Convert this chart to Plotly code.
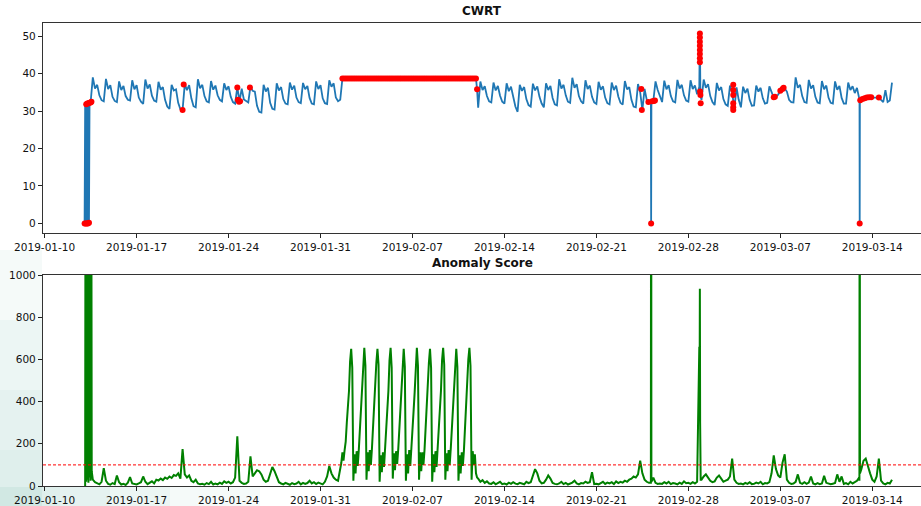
import pandas as pd
import plotly.graph_objects as go

# ---------------- data ----------------
TICK_DATES = ["2019-01-10", "2019-01-17", "2019-01-24", "2019-01-31", "2019-02-07",
              "2019-02-14", "2019-02-21", "2019-02-28", "2019-03-07", "2019-03-14"]
TICK_LABELS = TICK_DATES
CWRT_TICKS = [0, 10, 20, 30, 40, 50]
SCORE_TICKS = [0, 200, 400, 600, 800, 1000]
THRESHOLD = 100

# CWRT, 4-hourly samples, first segment (starts 2019-01-13 12:00)
CWRT_A_START = "2019-01-13 12:00"
CWRT_A = [
    32.3, 39.0, 36.0,                       # 01-13
    37.0, 34.2, 32.9, 32.6, 38.6, 35.9,     # 01-14
    36.9, 33.8, 32.7, 32.4, 37.9, 35.6,     # 01-15
    36.7, 34.0, 33.0, 32.8, 38.2, 35.8,     # 01-16
    36.9, 33.6, 32.5, 31.9, 38.4, 36.0,     # 01-17
    37.1, 34.1, 32.8, 32.5, 37.8, 35.7,     # 01-18
    36.4, 33.0, 31.2, 30.6, 37.0, 35.5,     # 01-19
    35.8, 32.2, 30.5, 30.3, 37.2, 35.6,     # 01-20
    36.9, 33.4, 31.3, 31.0, 38.5, 36.1,     # 01-21
    37.0, 34.0, 32.6, 32.3, 38.0, 35.7,     # 01-22
    36.8, 34.2, 33.0, 32.6, 37.4, 35.6,     # 01-23
    36.6, 33.8, 32.4, 32.0, 36.4, 32.6,     # 01-24
    36.0, 33.1, 32.6, 32.3, 36.6, 35.4,     # 01-25
    35.2, 31.4, 29.8, 29.6, 37.0, 35.2,     # 01-26
    36.2, 32.2, 30.6, 30.4, 37.4, 35.5,     # 01-27
    36.4, 33.2, 32.0, 31.8, 37.6, 35.7,     # 01-28
    36.8, 33.6, 32.4, 32.1, 37.5, 35.8,     # 01-29
    36.7, 33.5, 32.0, 31.8, 37.9, 35.9,     # 01-30
    36.9, 33.4, 32.1, 31.9, 38.2, 36.5,     # 01-31
    37.4, 33.6, 32.6, 33.0,                 # 02-01
]
# stuck sensor value between 02-01 and 02-11
CWRT_FLAT_START = "2019-02-01 16:00"
CWRT_FLAT_END = "2019-02-11 20:00"
CWRT_FLAT_VALUE = 38.7

# CWRT, 4-hourly samples, second segment (starts 2019-02-12 00:00)
CWRT_B_START = "2019-02-12 00:00"
CWRT_B = [
    30.9, 37.9, 35.6, 36.6, 34.0, 32.6,     # 02-12
    32.3, 37.6, 35.5, 36.7, 34.1, 32.5,     # 02-13
    32.0, 37.4, 35.3, 36.5, 33.4, 31.2,     # 02-14
    29.8, 37.0, 35.4, 36.4, 33.2, 31.6,     # 02-15
    31.2, 37.3, 35.5, 36.6, 33.8, 32.0,     # 02-16
    31.0, 37.4, 35.6, 36.7, 33.5, 31.8,     # 02-17
    31.5, 38.5, 36.0, 37.0, 34.2, 32.5,     # 02-18
    32.2, 38.9, 36.2, 37.2, 34.0, 32.6,     # 02-19
    32.0, 38.2, 35.9, 36.8, 33.8, 32.3,     # 02-20
    31.9, 37.8, 35.7, 36.6, 33.6, 32.1,     # 02-21
    31.8, 37.6, 35.6, 36.8, 33.9, 32.2,     # 02-22
    31.7, 38.0, 35.8, 36.4, 33.0, 31.2,     # 02-23
    31.0, 37.2, 35.0, 30.3, 35.9, 33.0,     # 02-24
    32.4, 0.0, 32.7, 37.9, 35.6, 34.0,      # 02-25
    32.4, 38.1, 35.8, 36.9, 34.0, 32.6,     # 02-26
    32.3, 38.3, 36.0, 37.0, 34.2, 32.8,     # 02-27
    32.5, 38.2, 35.9, 36.8, 34.5, 36.5,     # 02-28
    33.0, 38.4, 36.2, 37.2, 34.0, 32.4,     # 03-01
    31.6, 37.5, 35.5, 36.4, 33.2, 31.8,     # 03-02
    31.4, 36.8, 35.0, 30.5, 36.3, 33.0,     # 03-03
    31.0, 36.5, 34.8, 36.0, 33.0, 31.4,     # 03-04
    31.5, 36.8, 35.2, 36.2, 33.4, 32.0,     # 03-05
    32.2, 36.6, 35.0, 33.6, 33.8, 34.4,     # 03-06
    35.3, 35.7, 36.0, 35.2, 33.0, 32.4,     # 03-07
    32.3, 39.0, 36.2, 37.0, 34.0, 32.4,     # 03-08
    32.2, 38.3, 36.0, 36.9, 33.8, 32.3,     # 03-09
    32.1, 38.0, 35.8, 36.8, 33.6, 32.2,     # 03-10
    32.0, 37.9, 35.7, 36.7, 33.5, 32.0,     # 03-11
    32.0, 37.6, 35.6, 36.6, 34.8, 36.2,     # 03-12
    33.0, 33.2, 33.4, 33.6, 33.7, 33.7,     # 03-13
    33.5, 33.6, 33.6, 33.6, 33.0, 32.4,     # 03-14
    35.6, 32.4, 32.8, 37.6,                 # 03-15
]
# extra irregular CWRT readings (sensor drop-outs and spikes)
CWRT_EXTRA_TIMES = [
    "2019-01-13 01:00", "2019-01-13 02:00", "2019-01-13 03:00", "2019-01-13 04:00",
    "2019-01-13 05:00", "2019-01-13 06:00", "2019-01-13 07:00", "2019-01-13 08:00",
    "2019-01-13 09:00", "2019-01-13 10:00",
    "2019-02-11 22:00",
    "2019-02-25 03:30", "2019-02-25 04:30",
    "2019-02-28 21:00", "2019-02-28 22:00",
    "2019-03-13 00:40", "2019-03-13 01:00", "2019-03-13 01:20",
]
CWRT_EXTRA_VALUES = [
    0.0, 31.6, 0.0, 31.8,
    0.0, 32.0, 0.0, 32.1,
    0.2, 32.2,
    35.8,
    32.4, 32.5,
    51.0, 34.0,
    33.0, 0.0, 32.9,
]

# anomalies flagged on CWRT (red dots), plus every sample of the stuck period
ANOM_TIMES = [
    "2019-01-13 01:00", "2019-01-13 03:00", "2019-01-13 05:00", "2019-01-13 07:00",
    "2019-01-13 09:00", "2019-01-13 04:00", "2019-01-13 06:00", "2019-01-13 08:00",
    "2019-01-13 10:00", "2019-01-13 12:00", "2019-01-13 13:30",
    "2019-01-20 12:00", "2019-01-20 14:00",
    "2019-01-24 16:00", "2019-01-24 17:00", "2019-01-24 19:00", "2019-01-24 21:00",
    "2019-01-25 15:00",
    "2019-02-11 22:00",
    "2019-02-24 10:00", "2019-02-24 11:00",
    "2019-02-25 04:00", "2019-02-24 23:00", "2019-02-25 06:00", "2019-02-25 09:00",
    "2019-02-25 11:00",
    "2019-02-28 21:00", "2019-02-28 21:00", "2019-02-28 21:00", "2019-02-28 21:00",
    "2019-02-28 21:00", "2019-02-28 21:00", "2019-02-28 21:00", "2019-02-28 21:00",
    "2019-02-28 21:30", "2019-02-28 22:00", "2019-02-28 22:30",
    "2019-03-03 10:00", "2019-03-03 10:00", "2019-03-03 10:00", "2019-03-03 10:00",
    "2019-03-03 10:00", "2019-03-03 10:00",
    "2019-03-06 12:00", "2019-03-06 14:00",
    "2019-03-07 00:00", "2019-03-07 04:00", "2019-03-07 06:00",
    "2019-03-13 01:00", "2019-03-13 02:00", "2019-03-13 06:00", "2019-03-13 10:00",
    "2019-03-13 14:00", "2019-03-13 18:00", "2019-03-13 22:00", "2019-03-14 12:00",
]
ANOM_VALUES = [
    0.0, 0.0, 0.0, 0.0,
    0.2, 31.8, 32.0, 32.1,
    32.2, 32.3, 32.5,
    30.3, 37.1,
    36.3, 33.0, 32.5, 32.6,
    36.3,
    35.8,
    35.9, 30.3,
    0.0, 32.4, 32.6, 32.7,
    32.8,
    43.0, 44.1, 45.2, 46.3,
    47.4, 48.5, 49.6, 50.7,
    35.2, 34.3, 32.1,
    37.0, 35.6, 34.3, 32.1,
    31.0, 30.3,
    33.7, 33.8,
    35.4, 35.9, 36.2,
    0.0, 32.9, 33.2, 33.4,
    33.6, 33.7, 33.7, 33.6,
]

# Anomaly score, segment A: 4-hourly from 2019-01-13 16:00
SCORE_A_START = "2019-01-13 16:00"
SCORE_A = [
    30, 18,                         # 01-13
    12, 8, 20, 84, 25, 10,          # 01-14
    6, 14, 9, 50, 18, 7,            # 01-15
    10, 5, 16, 42, 12, 8,           # 01-16
    7, 12, 18, 45, 20, 9,           # 01-17
    15, 22, 12, 30, 26, 35,         # 01-18
    28, 40, 34, 45, 38, 52,         # 01-19
    48, 60, 35, 175, 55, 40,        # 01-20
    50, 25, 18, 30, 12, 8,          # 01-21
    10, 6, 14, 9, 20, 7,            # 01-22
    12, 8, 16, 10, 22, 15,          # 01-23
    20, 12, 18, 40, 235, 25,        # 01-24
    15, 10, 12, 20, 140, 45,        # 01-25
    60, 75, 70, 55, 30, 20,         # 01-26
    25, 60, 90, 70, 40, 18,         # 01-27
    12, 8, 15, 10, 6, 14,           # 01-28
    9, 12, 20, 8, 15, 10,           # 01-29
    14, 25, 12, 18, 9, 16,          # 01-30
    12, 8, 20, 45, 95, 60,          # 01-31
    40, 30, 25,                     # 02-01
]
# segment B: 2-hourly from 2019-02-01 12:00 (daily oscillation)
SCORE_B_START = "2019-02-01 12:00"
SCORE_B = [
    80, 110, 160, 120, 170, 210,                                  # 02-01
    300, 360, 450, 590, 650, 560, 25, 150, 60, 165, 95, 175,      # 02-02
    280, 340, 460, 600, 655, 570, 30, 160, 70, 170, 100, 180,     # 02-03
    290, 350, 440, 585, 650, 575, 20, 145, 65, 160, 90, 170,      # 02-04
    300, 330, 450, 595, 655, 560, 35, 155, 75, 165, 105, 175,     # 02-05
    285, 345, 455, 590, 650, 565, 25, 150, 60, 170, 95, 180,      # 02-06
    295, 355, 445, 600, 655, 570, 30, 160, 70, 160, 100, 170,     # 02-07
    290, 340, 460, 585, 650, 560, 20, 150, 65, 165, 90, 175,      # 02-08
    300, 350, 450, 595, 655, 575, 30, 155, 70, 170, 100, 180,     # 02-09
    285, 345, 440, 590, 650, 565, 25, 145, 60, 160, 95, 170,      # 02-10
    290, 355, 455, 600, 655, 570, 30, 165, 100, 150, 60, 40,      # 02-11
]
# segment C: 4-hourly from 2019-02-12 00:00
SCORE_C_START = "2019-02-12 00:00"
SCORE_C = [
    35, 20, 28, 15, 22, 12,         # 02-12
    10, 18, 8, 14, 20, 9,           # 02-13
    12, 7, 16, 10, 18, 11,          # 02-14
    9, 15, 12, 8, 20, 14,           # 02-15
    18, 45, 80, 60, 25, 12,         # 02-16
    15, 30, 50, 35, 14, 10,         # 02-17
    8, 12, 20, 9, 15, 7,            # 02-18
    10, 16, 25, 12, 8, 14,          # 02-19
    12, 20, 15, 18, 65, 9,          # 02-20
    11, 8, 14, 20, 10, 16,          # 02-21
    12, 18, 9, 22, 14, 20,          # 02-22
    16, 25, 20, 30, 35, 45,         # 02-23
    40, 55, 120, 60, 30, 20,        # 02-24
    15, 2500, 40, 15, 10, 12,       # 02-25
    10, 18, 12, 20, 9, 14,          # 02-26
    12, 8, 16, 10, 22, 13,          # 02-27
    15, 10, 18, 12, 20, 660,        # 02-28
    30, 45, 55, 40, 25, 18,         # 03-01
    22, 40, 50, 35, 20, 25,         # 03-02
    30, 45, 130, 30, 15, 10,        # 03-03
    12, 8, 15, 10, 18, 9,           # 03-04
    10, 16, 12, 20, 8, 14,          # 03-05
    12, 18, 60, 145, 80, 50,        # 03-06
    40, 110, 150, 30, 15, 10,       # 03-07
    12, 20, 55, 15, 10, 18,         # 03-08
    10, 16, 45, 12, 8, 14,          # 03-09
    9, 12, 48, 15, 10, 8,           # 03-10
    11, 14, 55, 20, 45, 10,         # 03-11
    14, 8, 20, 12, 18, 25,          # 03-12
    40, 80, 120, 130, 90, 60,       # 03-13
    30, 20, 45, 130, 25, 12,        # 03-14
    8, 15, 12, 30,                  # 03-15
]
# extra irregular score readings (very large values at sensor drop-outs)
SCORE_EXTRA_TIMES = [
    "2019-01-13 02:00", "2019-01-13 03:00", "2019-01-13 04:00", "2019-01-13 05:00",
    "2019-01-13 06:00", "2019-01-13 07:00", "2019-01-13 08:00", "2019-01-13 09:00",
    "2019-01-13 10:00", "2019-01-13 11:00", "2019-01-13 12:00", "2019-01-13 13:00",
    "2019-01-13 14:00",
    "2019-02-25 03:30", "2019-02-25 04:30",
    "2019-02-28 20:30", "2019-02-28 21:00", "2019-02-28 21:30", "2019-02-28 22:30",
    "2019-03-13 00:30", "2019-03-13 01:00", "2019-03-13 01:30",
]
SCORE_EXTRA_VALUES = [
    0, 2500, 20, 2600,
    30, 2400, 15, 2500,
    40, 2300, 25, 2200,
    70,
    15, 20,
    400, 935, 300, 30,
    25, 2500, 60,
]

# ---------------- assemble ----------------
def series(start, step, values):
    return list(pd.date_range(start, periods=len(values), freq=step)), list(values)

def merge(parts):
    pts = []
    for ts, vs in parts:
        pts += [(pd.Timestamp(t), v) for t, v in zip(ts, vs)]
    pts.sort(key=lambda p: p[0])
    return [p[0] for p in pts], [p[1] for p in pts]

flat_t = list(pd.date_range(CWRT_FLAT_START, CWRT_FLAT_END, freq="4h"))
flat_v = [CWRT_FLAT_VALUE for _ in flat_t]

cwrt_x, cwrt_y = merge([
    series(CWRT_A_START, "4h", CWRT_A),
    (flat_t, flat_v),
    series(CWRT_B_START, "4h", CWRT_B),
    (CWRT_EXTRA_TIMES, CWRT_EXTRA_VALUES),
])
anom_x, anom_y = merge([(ANOM_TIMES, ANOM_VALUES), (flat_t, flat_v)])
score_x, score_y = merge([
    series(SCORE_A_START, "4h", SCORE_A),
    series(SCORE_B_START, "2h", SCORE_B),
    series(SCORE_C_START, "4h", SCORE_C),
    (SCORE_EXTRA_TIMES, SCORE_EXTRA_VALUES),
])

X_RANGE = ["2019-01-09 21:00", "2019-03-17 17:00"]

fig = go.Figure()
fig.add_trace(go.Scatter(x=cwrt_x, y=cwrt_y, mode="lines",
                         line=dict(color="#1f77b4", width=1.8),
                         xaxis="x", yaxis="y", showlegend=False))
fig.add_trace(go.Scatter(x=anom_x, y=anom_y, mode="markers",
                         marker=dict(color="red", size=6, line=dict(width=0)),
                         xaxis="x", yaxis="y", showlegend=False))
fig.add_trace(go.Scatter(x=score_x, y=score_y, mode="lines",
                         line=dict(color="green", width=2),
                         xaxis="x2", yaxis="y2", showlegend=False))
fig.add_trace(go.Scatter(x=X_RANGE, y=[THRESHOLD, THRESHOLD], mode="lines",
                         line=dict(color="red", width=1, dash="3px,2px"),
                         xaxis="x2", yaxis="y2", showlegend=False))

tickfont = dict(family="DejaVu Sans", size=10.5, color="#111111")
axis_common = dict(showgrid=False, zeroline=False, showline=True, linecolor="#333333",
                   linewidth=1.3, ticks="outside", ticklen=4, tickwidth=1,
                   tickcolor="#222222", tickfont=tickfont, automargin=False)

# faint teal wash in the lower-left corner of the page (margins only)
PX_W, PX_H = 878.0, 463.0
def px_rect(px0, py0, px1, py1):
    return dict(type="rect", xref="paper", yref="paper", layer="below",
                x0=(px0 - 43) / PX_W, x1=(px1 - 43) / PX_W,
                y0=(486 - py1) / PX_H, y1=(486 - py0) / PX_H,
                fillcolor="rgba(200,226,224,0.18)", line=dict(width=0))
wash = []
for top in (250, 320, 390, 450):          # left margin strip
    wash.append(px_rect(0, top, 42, 506))
for right in (260, 170, 110, 60):         # strip beneath the lower axis
    wash.append(px_rect(0, 487, right, 506))

fig.update_layout(
    width=921, height=506,
    margin=dict(l=43, r=0, t=23, b=20, autoexpand=False),
    paper_bgcolor="white", plot_bgcolor="white",
    shapes=wash,
    xaxis=dict(domain=[0, 1], anchor="y", type="date", range=X_RANGE,
               tickvals=TICK_DATES, ticktext=TICK_LABELS, mirror=True, **axis_common),
    yaxis=dict(domain=[0.5464, 1.0], anchor="x", range=[-2.55, 53.5],
               tickvals=CWRT_TICKS, **axis_common),
    xaxis2=dict(domain=[0, 1], anchor="y2", type="date", range=X_RANGE,
                tickvals=TICK_DATES, ticktext=TICK_LABELS, mirror=True, **axis_common),
    yaxis2=dict(domain=[0, 0.4557], anchor="x2", range=[0, 1000],
                tickvals=SCORE_TICKS, **axis_common),
    annotations=[
        dict(text="<b>CWRT</b>", x=0.5, y=1.0, xref="paper", yref="paper",
             xanchor="center", yanchor="bottom", yshift=3, showarrow=False,
             font=dict(family="DejaVu Sans", size=12, color="#111111")),
        dict(text="<b>Anomaly Score</b>", x=0.5, y=0.4557, xref="paper", yref="paper",
             xanchor="center", yanchor="bottom", yshift=3, showarrow=False,
             font=dict(family="DejaVu Sans", size=12, color="#111111")),
    ],
)

fig.write_html("out.html", config={"displayModeBar": False},
               post_script="document.body.style.margin='0';")
